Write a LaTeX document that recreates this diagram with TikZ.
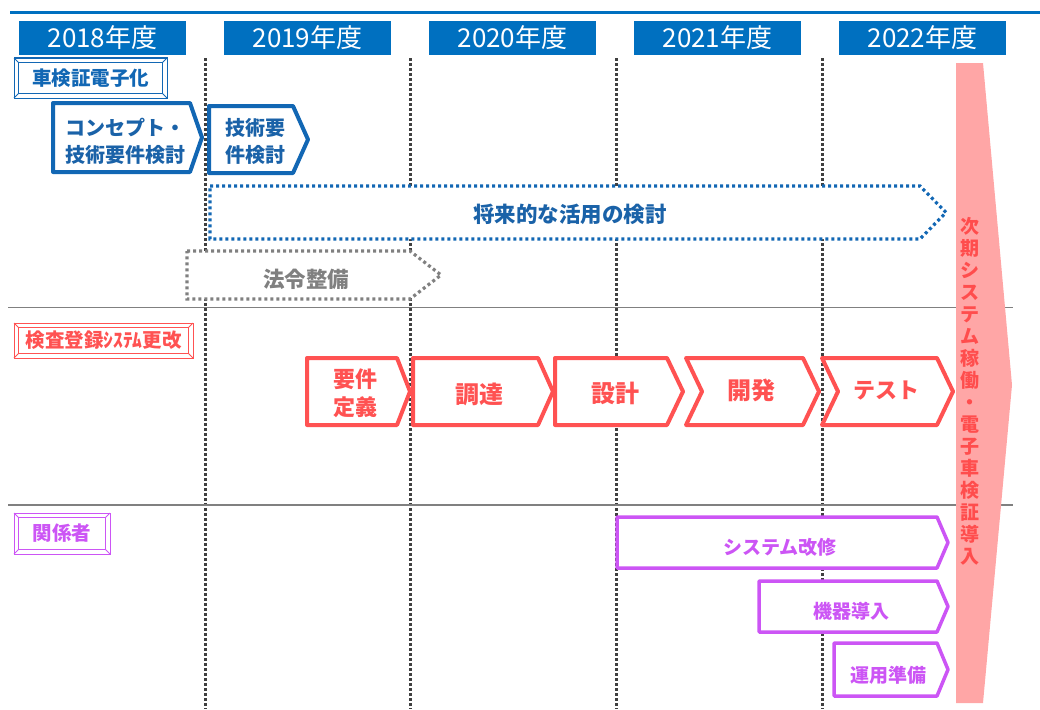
\documentclass[tikz,border=0pt]{standalone}
\usepackage{fontspec}
\setmainfont{Noto Sans CJK JP}
\definecolor{hdrblue}{HTML}{0070C0}
\definecolor{cblue}{HTML}{1267B4}
\definecolor{tblue}{HTML}{1A62A8}
\definecolor{cred}{HTML}{FF5252}
\definecolor{cmag}{HTML}{CC55F5}
\definecolor{cgray}{HTML}{808080}
\definecolor{vgray}{HTML}{404040}
\definecolor{pinkfill}{HTML}{FFA6A6}
\definecolor{pinktext}{HTML}{FF4D4D}
\newcommand\hplate[6]{\draw[#1] (#2,#3) -- ({#4-#6},#3) -- (#4,{(#3+#5)/2}) -- ({#4-#6},#5) -- (#2,#5) -- cycle;}
\newcommand\chevr[6]{\draw[#1] (#2,#3) -- ({#4-#6},#3) -- (#4,{(#3+#5)/2}) -- ({#4-#6},#5) -- (#2,#5) -- ({#2+#6},{(#3+#5)/2}) -- cycle;}
\newcommand\lblbox[5]{%
  \draw[#5,line width=1pt] (#1,#2) rectangle (#3,#4);
  \draw[#5,line width=1pt] ({#1+4.5},{#2+4.5}) rectangle ({#3-4.5},{#4-4.5});
  \draw[#5,line width=0.8pt] (#1,#2) -- ({#1+4.5},{#2+4.5}) (#3,#2) -- ({#3-4.5},{#2+4.5})
    (#1,#4) -- ({#1+4.5},{#4-4.5}) (#3,#4) -- ({#3-4.5},{#4-4.5});}
\tikzset{
  year/.style={fill=hdrblue,text=white,minimum width=167pt,minimum height=34pt,inner sep=0pt,font=\fontsize{26}{28}\selectfont},
  vline/.style={vgray,line width=3pt,dash pattern=on 2.6pt off 2.4pt},
  hline/.style={cgray,line width=1.5pt},
  bluebox/.style={draw=cblue,line width=4pt,fill=white,line join=round},
  bluedot/.style={draw=cblue,line width=3.2pt,fill=white,dash pattern=on 3pt off 3pt},
  graydot/.style={draw=cgray,line width=3.2pt,fill=white,dash pattern=on 3pt off 3pt},
  redbox/.style={draw=cred,line width=4pt,fill=white,line join=round},
  magbox/.style={draw=cmag,line width=3.5pt,fill=white,line join=round},
  lbl/.style={font=\bfseries\fontsize{19.5}{21}\selectfont,inner sep=0pt},
  btxt/.style={text=tblue,font=\bfseries\fontsize{20}{27}\selectfont,align=center,inner sep=0pt},
  rtxt/.style={text=cred,font=\bfseries\fontsize{24}{28}\selectfont,align=center,inner sep=0pt},
  mtxt/.style={text=cmag,font=\bfseries\fontsize{19}{22}\selectfont,inner sep=0pt},
}
\begin{document}
\begin{tikzpicture}[x=1pt,y=-1pt]
\useasboundingbox (0,0) rectangle (1040,709);
% top line
\draw[hdrblue,line width=3pt] (10,13) -- (1040,13);
% year headers
\node[year] (y18) at (102.5,38) {2018年度};
\node[year] (y19) at (307.5,38) {2019年度};
\node[year] (y20) at (512.5,38) {2020年度};
\node[year] (y21) at (717.5,38) {2021年度};
\node[year] (y22) at (922.5,38) {2022年度};
% vertical dotted lines
\foreach \x in {205,410,616,822} \draw[vline] (\x,58) -- (\x,709);
% horizontal separators
\draw[hline] (8,307.5) -- (1013,307.5);
\draw[hline] (8,505) -- (1013,505);
% section labels
\lblbox{14}{58}{167}{98}{cblue}
\node[lbl,text=cblue] (l1) at (90.5,78) {車検証電子化};
\lblbox{14}{323}{193}{358}{cred}
\node[lbl,text=cred] (l2) at (103.5,340.5) {検査登録ｼｽﾃﾑ更改};
\lblbox{14}{513}{110}{554}{cmag}
\node[lbl,text=cmag] (l3) at (62,533.5) {関係者};
% blue row
\hplate{bluebox}{53}{103}{202}{172}{12}
\node[btxt] (b1) at (125,141) {コンセプト・\\技術要件検討};
\hplate{bluebox}{209}{106}{308}{173}{15}
\node[btxt] (b2) at (255,141) {技術要\\件検討};
\hplate{bluedot}{210}{186}{946}{239}{26}
\node[btxt,font=\bfseries\fontsize{21.5}{24}\selectfont] (b3) at (570,214) {将来的な活用の検討};
\hplate{graydot}{187}{251}{441}{299}{31}
\node[btxt,text=cgray,font=\bfseries\fontsize{21.5}{24}\selectfont] (g1) at (306,279) {法令整備};
% red row
\hplate{redbox}{307}{358}{410}{425}{13}
\node[rtxt,font=\bfseries\fontsize{22}{28}\selectfont] (r1) at (355,393) {要件\\定義};
\hplate{redbox}{413}{358}{553}{425}{15}
\node[rtxt] (r2) at (479,394) {調達};
\hplate{redbox}{555}{358}{683}{425}{16}
\node[rtxt] (r3) at (615,393) {設計};
\chevr{redbox}{686}{358}{819}{425}{16}
\node[rtxt] (r4) at (751,390) {開発};
\chevr{redbox}{822}{358}{953}{425}{16}
\node[rtxt,font=\bfseries\fontsize{22}{26}\selectfont] (r5) at (886,391) {テスト};
% magenta row
\hplate{magbox}{617}{517}{948}{568}{11}
\node[mtxt] (m1) at (780,547) {システム改修};
\hplate{magbox}{759}{581}{948}{632}{11}
\node[mtxt] (m2) at (851,611) {機器導入};
\hplate{magbox}{834}{643}{948}{696}{11}
\node[mtxt] (m3) at (888,675) {運用準備};
% big pink arrow
\fill[pinkfill] (956,63) -- (983,63) -- (1012,385) -- (983,703) -- (956,703) -- cycle;
\node[text=pinktext,font=\bfseries\fontsize{19}{22}\selectfont,align=center,inner sep=0pt] (p1) at (970,391)
  {次\\期\\シ\\ス\\テ\\ム\\稼\\働\\・\\電\\子\\車\\検\\証\\導\\入};
\end{tikzpicture}
\end{document}
